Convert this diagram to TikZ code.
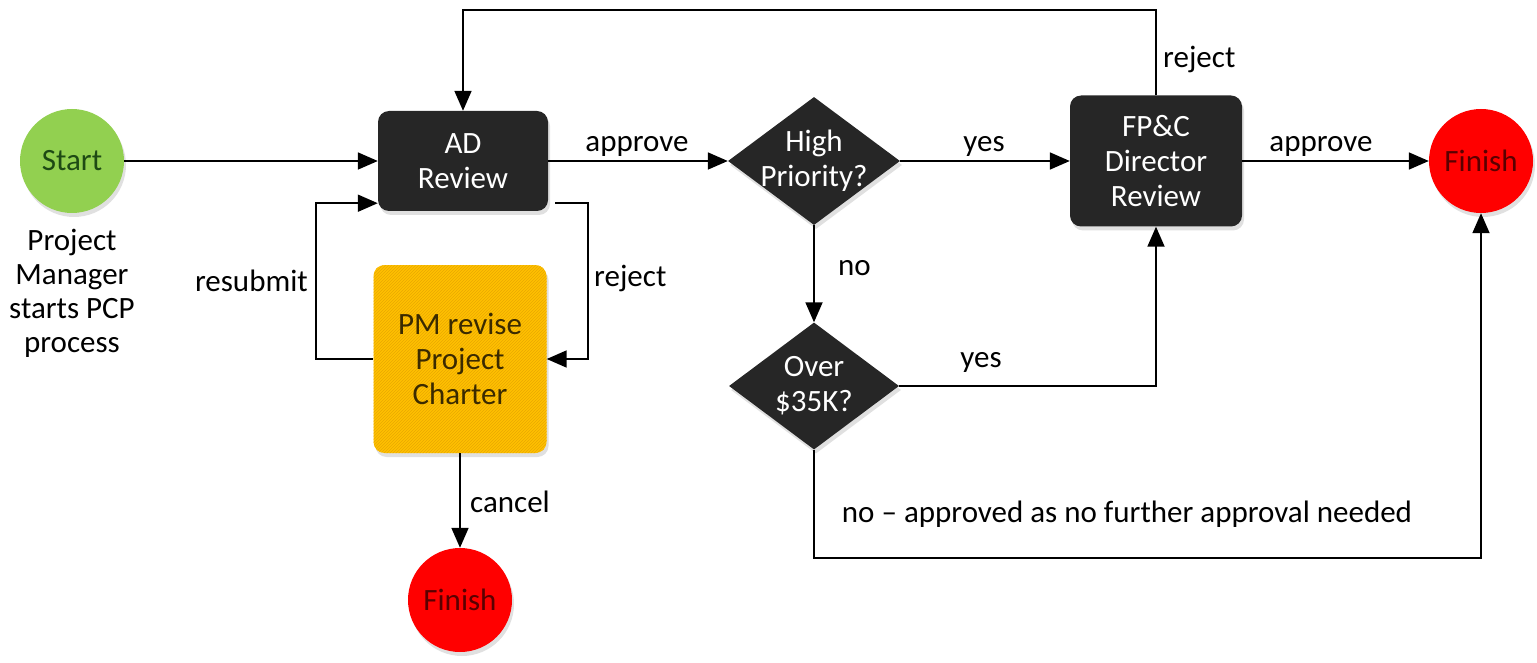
\documentclass[tikz,border=0pt]{standalone}
\usepackage{fontspec}
\setmainfont{Carlito}
\usetikzlibrary{arrows.meta,shapes.geometric,shadows,patterns}
\definecolor{dk}{HTML}{262626}
\definecolor{gr}{HTML}{92D050}
\definecolor{grt}{HTML}{1E4A14}
\definecolor{rd}{HTML}{FF0000}
\definecolor{rdt}{HTML}{5A0000}
\definecolor{og}{HTML}{FFC000}
\definecolor{ogs}{HTML}{E8A800}
\definecolor{ogt}{HTML}{3A2A00}
\begin{document}
\begin{tikzpicture}[x=1pt,y=-1pt,
  every node/.style={font=\fontsize{31}{35}\selectfont},
  shad/.style={drop shadow={shadow xshift=2pt,shadow yshift=-4pt,opacity=0.2,fill=black!60}},
  dbox/.style={shad, rectangle, rounded corners=11pt, fill=dk, text=white, align=center, inner sep=0pt},
  ddia/.style={shad, diamond, fill=dk, inner sep=0pt},
  circ/.style={shad, circle, minimum size=104pt, inner sep=0pt},
  lbl/.style={inner sep=0pt, text=black},
  ln/.style={line width=1.8pt, draw=black},
  arr/.style={ln, -{Triangle[length=20pt,width=17pt]}},
]
\useasboundingbox (0,0) rectangle (1537,663);
% nodes
\node[circ, fill=gr, text=grt] (start) at (72,161) {Start};
\node[lbl, align=center, anchor=north, font=\fontsize{31}{34}\selectfont] (pmlab) at (72,229) {Project\\Manager\\starts PCP\\process};
\node[dbox, minimum width=170pt, minimum height=100pt] (ad) at (463,161) {AD\\Review};
\node[shad, rectangle, rounded corners=11pt, fill=og, text=ogt, align=center, inner sep=0pt,
      minimum width=173pt, minimum height=188pt,
      postaction={pattern=north east lines, pattern color=ogs}] (pm) at (460,359) {PM revise\\Project\\Charter};
\node[circ, fill=rd, text=rdt] (fin1) at (460,600) {Finish};
\node[ddia, minimum width=172pt, minimum height=128pt,
      label={[text=white,align=center,inner sep=0pt]center:High\\Priority?}] (hp) at (814,161) {};
\node[ddia, minimum width=170pt, minimum height=127pt,
      label={[text=white,align=center,inner sep=0pt]center:Over\\\$35K?}] (ov) at (814,386) {};
\node[dbox, minimum width=172pt, minimum height=131pt] (fpc) at (1156,161) {FP\&C\\Director\\Review};
\node[circ, fill=rd, text=rdt] (fin2) at (1481,161) {Finish};
% helper coordinates
\coordinate (topy) at (0,10);
\coordinate (boty) at (0,558);
% connectors
\draw[arr] (start) -- (ad);
\draw[arr] (ad) -- (hp);
\draw[arr] (hp) -- (fpc);
\draw[arr] (fpc) -- (fin2);
\draw[arr] (fpc.north) -- (fpc.north |- topy) -| (ad.north);
\draw[arr] ([xshift=7pt,yshift=8pt]ad.south east) -- ++(33,0) |- (pm.east);
\draw[arr] (pm.west) -- ++(-57,0) |- ([yshift=8pt]ad.south west);
\draw[arr] (pm) -- (fin1);
\draw[arr] (hp) -- (ov);
\draw[arr] (ov) -| (fpc);
\draw[arr] (ov.south) -- (ov.south |- boty) -| (fin2.south);
% labels
\node[lbl, anchor=base] (l1) at (637,152) {approve};
\node[lbl, anchor=base] (l2) at (984,152) {yes};
\node[lbl, anchor=base] (l3) at (1321,152) {approve};
\node[lbl, anchor=base west] (l4) at (1163,68) {reject};
\node[lbl, anchor=base west] (l5) at (594,287) {reject};
\node[lbl, anchor=base east] (l6) at (308,291) {resubmit};
\node[lbl, anchor=base west] (l7) at (838,276) {no};
\node[lbl, anchor=base] (l8) at (981,367) {yes};
\node[lbl, anchor=base west] (l9) at (470,512) {cancel};
\node[lbl, anchor=base] (l10) at (1127,522) {no -- approved as no further approval needed};
\end{tikzpicture}
\end{document}
